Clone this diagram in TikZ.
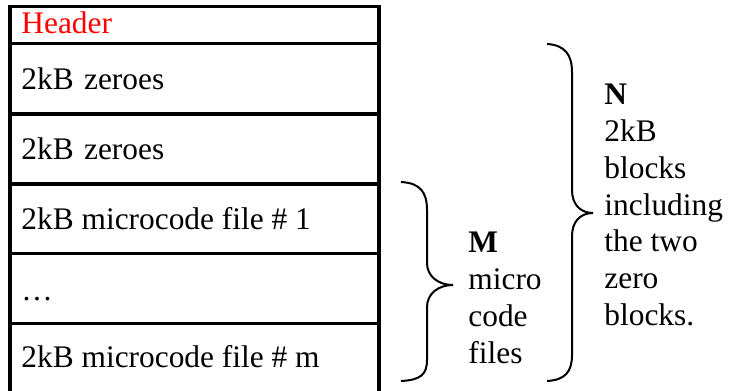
\documentclass[tikz,border=0pt]{standalone}
\usepackage{fontspec}
\setmainfont{Liberation Serif}
\begin{document}
\begin{tikzpicture}[x=0.5pt,y=-0.5pt,
  cell/.style={draw, line width=1.65pt, minimum width=184.5pt, anchor=north west, inner sep=0pt, outer sep=0pt},
  txt/.style={anchor=base west, inner sep=0pt, font=\fontsize{15.7}{19}\selectfont},
  brace/.style={line width=1pt},
  lbl/.style={anchor=base west, inner sep=0pt, font=\fontsize{15.7}{18.4}\selectfont, align=left}]
\useasboundingbox (0,0) rectangle (734,391);
\node[cell, minimum height=18.6pt] (c1) at (10,6.3) {};
\node[cell, minimum height=35.25pt] (c2) at (10,43.5) {};
\node[cell, minimum height=35pt] (c3) at (10,114) {};
\node[cell, minimum height=34.85pt] (c4) at (10,184) {};
\node[cell, minimum height=34.9pt] (c5) at (10,253.7) {};
\node[cell, minimum height=35pt] (c6) at (10,323.5) {};
\node[txt, text=red] (t1) at (21,33.3) {Header};
\node[txt] (t2) at (21,89) {2kB\hspace{0.33em}zeroes};
\node[txt] (t3) at (21,159) {2kB\hspace{0.33em}zeroes};
\node[txt] (t4) at (21,229.3) {2kB microcode file \# 1};
\node[txt] (t5) at (21,300) {\dots};
\node[txt] (t6) at (21,367) {2kB microcode file \# m};
\draw[brace] (401,182) .. controls (420,183) and (427,192) .. (427,210) -- (427,263) .. controls (427,276) and (438,285) .. (453,285) .. controls (438,285) and (427,294) .. (427,307) -- (427,360) .. controls (427,375) and (420,380) .. (401,381);
\draw[brace] (547,44) .. controls (565,45) and (572,55) .. (572,72) -- (572,190) .. controls (572,204) and (580,213) .. (593,213) .. controls (580,213) and (572,222) .. (572,236) -- (572,355) .. controls (572,372) and (565,380) .. (547,381);
\node[lbl] (mlab) at (468,363) {\textbf{M}\\micro\\code\\files};
\node[lbl] (nlab) at (604,325.5) {\textbf{N}\\2kB\\blocks\\including\\the two\\zero\\blocks.};
\end{tikzpicture}
\end{document}
